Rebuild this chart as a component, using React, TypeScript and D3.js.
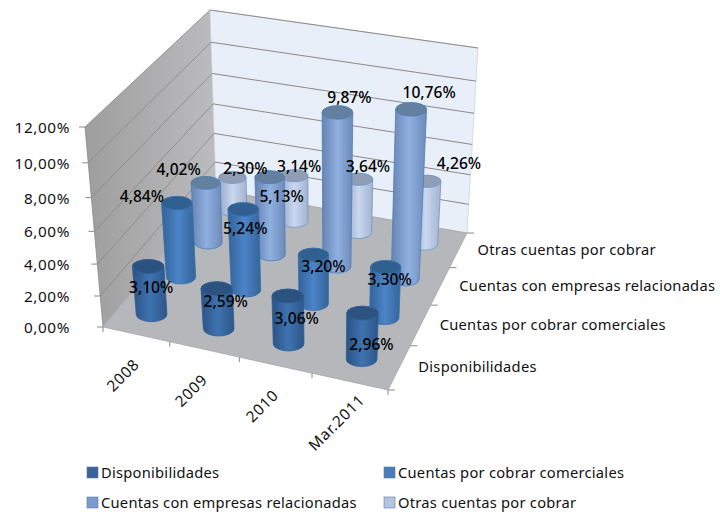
import React from "react";
import * as d3 from "d3";

const categories = ["2008", "2009", "2010", "Mar.2011"];
const seriesNames = ["Disponibilidades", "Cuentas por cobrar comerciales", "Cuentas con empresas relacionadas", "Otras cuentas por cobrar"];
const disponibilidades = [3.10, 2.59, 3.06, 2.96];
const comerciales = [4.84, 5.24, 3.20, 3.30];
const relacionadas = [4.02, 5.13, 9.87, 10.76];
const otras = [2.30, 3.14, 3.64, 4.26];
const seriesValues = [disponibilidades, comerciales, relacionadas, otras];
const zTicks = [0, 2, 4, 6, 8, 10, 12];

const bodyColors = [
  ["#2a5284", "#3f73b0", "#2c5688"],
  ["#336398", "#4c84c8", "#346498"],
  ["#6583b3", "#8fb0e0", "#6c8ab8"],
  ["#98a9c8", "#c9d7ef", "#a3b3cf"],
];
const capColors = ["#2c5280", "#30608f", "#64809f", "#8f9eb5"];
const strokeColors = ["#2f5f98", "#3a70ad", "#4f7fb8", "#6f97c8"];
const swatchColors = ["#3a6497", "#4a7ebb", "#7c9acb", "#b4c5e0"];
const labelOffsets = [
  [[3, 21], [9, 13], [9, 23], [9, 32]],
  [[-35, -6], [2, 20], [10, 12], [4, 13]],
  [[-27, -13], [12, 20], [12, -14], [18, -16]],
  [[13, -9], [5, -9], [9, -12], [32, -17]],
];

const font = "'Noto Sans', sans-serif";
const floor = [[103, 327], [388, 390], [467, 233], [216, 190]];
const roof = [[85, 127], [395, 188], [478, 48], [210, 10]];
const u = d3.scaleLinear().domain([0, 4]).range([0, 1]);
const zs = d3.scaleLinear().domain([0, 12]).range([0, 1]);

function homography(q: number[][]) {
  const [[x0, y0], [x1, y1], [x2, y2], [x3, y3]] = q;
  const dx1 = x1 - x2, dx2 = x3 - x2, sx = x0 - x1 + x2 - x3;
  const dy1 = y1 - y2, dy2 = y3 - y2, sy = y0 - y1 + y2 - y3;
  const den = dx1 * dy2 - dx2 * dy1;
  const g = (sx * dy2 - dx2 * sy) / den, h = (dx1 * sy - sx * dy1) / den;
  const a = x1 - x0 + g * x1, b = x3 - x0 + h * x3, d = y1 - y0 + g * y1, e = y3 - y0 + h * y3;
  return (s: number, t: number) => {
    const w = g * s + h * t + 1;
    return [(a * s + b * t + x0) / w, (d * s + e * t + y0) / w];
  };
}
const floorH = homography(floor), roofH = homography(roof);
function project(cat: number, ser: number, val: number) {
  const s = u(cat), t = u(ser), z0 = zs(val);
  const z = z0 / (z0 + 1.09 * (1 - z0));
  const p = floorH(s, t), r = roofH(s, t);
  return [p[0] + (r[0] - p[0]) * z, p[1] + (r[1] - p[1]) * z];
}
const pts = (list: number[][]) => list.map((p) => p.join(",")).join(" ");
const line = (a: number[], b: number[]) => ({ x1: a[0], y1: a[1], x2: b[0], y2: b[1] });

function Column({ cat, ser, val }: { cat: number; ser: number; val: number }) {
  const base = project(cat + 0.5, ser + 0.5, 0);
  const top = project(cat + 0.5, ser + 0.5, val);
  const depth = u(ser + 0.5);
  const rb = 13 + 2.7 * (1 - depth);
  const rt = rb + 1.6 * zs(val);
  const ryb = rb * 0.47, ryt = rt * 0.44;
  const d = `M${top[0] - rt},${top[1]} L${base[0] - rb},${base[1]} A${rb},${ryb} 0 0 0 ${base[0] + rb},${base[1]} L${top[0] + rt},${top[1]} A${rt},${ryt} 0 0 0 ${top[0] - rt},${top[1]}Z`;
  return (
    <g>
      <path d={d} fill={`url(#body${ser})`} stroke={strokeColors[ser]} strokeWidth={0.8} />
      <ellipse cx={top[0]} cy={top[1]} rx={rt} ry={ryt} fill={capColors[ser]} stroke={strokeColors[ser]} strokeWidth={0.8} />
    </g>
  );
}

export default function App() {
  const order: [number, number][] = [];
  for (let ser = 3; ser >= 0; ser--) for (let cat = 0; cat < 4; cat++) order.push([cat, ser]);
  const legendPos = [[87, 473], [384, 473], [87, 503], [384, 503]];
  return (
    <svg width={720} height={512} style={{ position: "absolute", left: 0, top: 0, background: "#fff" }} fontFamily={font}>
      <defs>
        {bodyColors.map((c, i) => (
          <linearGradient key={i} id={`body${i}`} x1="0" x2="1" y1="0" y2="0">
            <stop offset="0" stopColor={c[0]} />
            <stop offset="0.5" stopColor={c[1]} />
            <stop offset="1" stopColor={c[2]} />
          </linearGradient>
        ))}
        <linearGradient id="side" x1="0" y1="0" x2="1" y2="0">
          <stop offset="0" stopColor="#9e9e9f" />
          <stop offset="1" stopColor="#bcbcbe" />
        </linearGradient>
      </defs>
      <polygon points={pts([floor[0], floor[3], roof[3], roof[0]])} fill="url(#side)" />
      <polygon points={pts([floor[3], floor[2], roof[2], roof[3]])} fill="#e9eff8" stroke="#c9cfd8" strokeWidth={0.7} />
      <polygon points={pts(floor)} fill="#b5b7ba" stroke="#a0a2a5" strokeWidth={0.7} />
      {zTicks.map((v) => {
        const a = project(0, 0, v), b = project(0, 4, v), c = project(4, 4, v);
        return (
          <g key={v}>
            {v > 0 && <line {...line(a, b)} stroke="#858585" strokeWidth={0.8} />}
            {v > 0 && <line {...line(b, c)} stroke="#8a8a8a" strokeWidth={1} />}
            <line x1={a[0] - 6} y1={a[1]} x2={a[0]} y2={a[1]} stroke="#8a8a8a" />
            <text x={70} y={a[1] + 6} textAnchor="end" fontSize={15.3} letterSpacing={0.6} fill="#111">
              {d3.format(".2f")(v).replace(".", ",")}%
            </text>
          </g>
        );
      })}
      <line {...line(project(0, 0, 0), project(0, 0, 12))} stroke="#8a8a8a" strokeWidth={0.8} />
      {d3.range(5).map((i) => {
        const p = project(i, 0, 0);
        return <line key={i} x1={p[0]} y1={p[1]} x2={p[0]} y2={p[1] + 5} stroke="#8a8a8a" />;
      })}
      {d3.range(5).map((i) => {
        const p = project(4, i, 0);
        return <line key={i} x1={p[0]} y1={p[1]} x2={p[0] + 7} y2={p[1]} stroke="#8a8a8a" />;
      })}
      {order.map(([cat, ser]) => (
        <Column key={`${cat}-${ser}`} cat={cat} ser={ser} val={seriesValues[ser][cat]} />
      ))}
      {order.map(([cat, ser]) => {
        const val = seriesValues[ser][cat];
        const top = project(cat + 0.5, ser + 0.5, val);
        const o = labelOffsets[ser][cat];
        return (
          <text key={`${cat}-${ser}`} x={top[0] + o[0]} y={top[1] + o[1] + 5} textAnchor="middle" fontSize={15.6} fontWeight={500} fill="#000">
            {d3.format(".2f")(val).replace(".", ",")}%
          </text>
        );
      })}
      {categories.map((c, i) => {
        const p = project(i + 0.5, 0, 0);
        return (
          <text key={c} transform={`translate(${p[0] - 13},${p[1] + 41}) rotate(-45)`} textAnchor="middle" dy="0.35em" fontSize={15.3} letterSpacing={0.8} fill="#111">
            {c}
          </text>
        );
      })}
      {seriesNames.map((n, i) => {
        const p = project(4, i + 0.5, 0);
        return (
          <text key={n} x={p[0] + 19} y={p[1] + 5} fontSize={14.7} letterSpacing={0.25} fill="#111">
            {n}
          </text>
        );
      })}
      {seriesNames.map((n, i) => (
        <g key={n}>
          <rect x={legendPos[i][0]} y={legendPos[i][1] - 6} width={11} height={11} fill={swatchColors[i]} stroke="#5a7ba5" strokeWidth={0.6} />
          <text x={legendPos[i][0] + 14} y={legendPos[i][1] + 5} fontSize={14.7} letterSpacing={0.25} fill="#111">
            {n}
          </text>
        </g>
      ))}
    </svg>
  );
}
